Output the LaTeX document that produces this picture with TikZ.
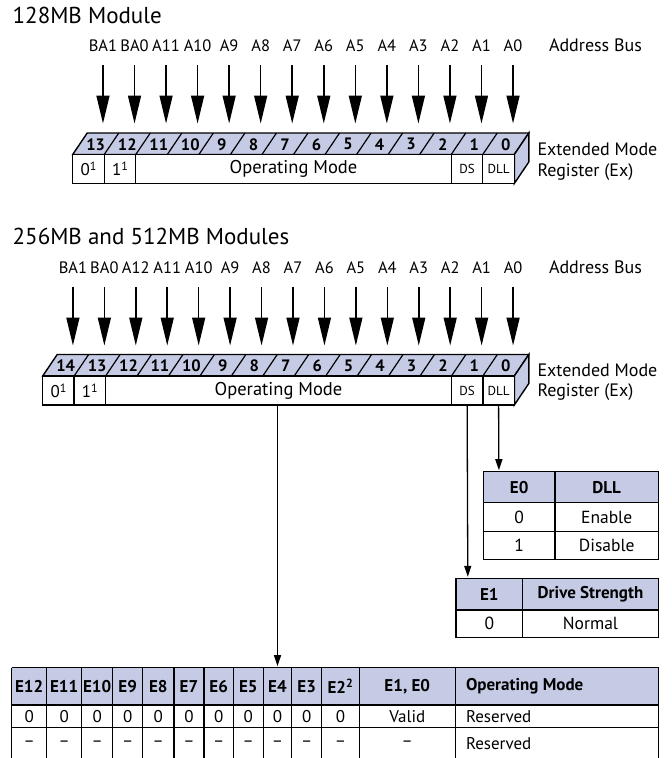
\documentclass[tikz,border=0pt]{standalone}
\usepackage{fontspec}
\setmainfont{PT Sans}
\usetikzlibrary{arrows.meta}
\definecolor{hdr}{HTML}{C5CBE4}
\newcommand\supone{\raisebox{0.55ex}{\fontsize{12}{14}\selectfont 1}}
\begin{document}
\begin{tikzpicture}[x=1pt,y=-1pt,
  every node/.style={inner sep=0pt, outer sep=0pt},
  reg/.style={draw=black, line width=1.4pt, line join=miter},
  fcell/.style={draw=black, line width=1.4pt, fill=white, anchor=north west, minimum height=29pt},
  busarrow/.style={line width=1.5pt, -{Triangle[width=13pt,length=28pt]}},
  conn/.style={line width=1.3pt, -{Triangle[width=7pt,length=11pt]}, shorten >=1.5pt},
  buslbl/.style={anchor=base, font=\fontsize{16.5}{18}\selectfont},
  bitnum/.style={font=\bfseries\fontsize{16.5}{18}\selectfont},
  title/.style={anchor=base west, font=\fontsize{23}{26}\selectfont},
  side/.style={anchor=base west, font=\fontsize{18}{20}\selectfont},
  tbl/.style={line width=1.3pt, line join=miter},
  th/.style={font=\bfseries\fontsize{17}{19}\selectfont},
  td/.style={font=\fontsize{17.5}{19}\selectfont},
  bth/.style={font=\bfseries\fontsize{17}{19}\selectfont},
  btd/.style={font=\fontsize{17}{19}\selectfont}
]
\useasboundingbox (0,0) rectangle (672,758);
\pgfmathsetmacro\dx{14.5}
\pgfmathsetmacro\dy{21.5}

% ---------- titles ----------
\node[title] (t128) at (12.7,23.3) {128MB Module};
\node[title] (t256) at (12.7,244) {256MB and 512MB Modules};

% ---------- register 1 ----------
\pgfmathsetmacro\xa{72.7}
\pgfmathsetmacro\xb{514.3}
\pgfmathsetmacro\yt{154.5}
\pgfmathsetmacro\yb{183.5}
\pgfmathsetmacro\n{14}
\pgfmathsetmacro\w{(\xb-\xa)/\n}
\pgfmathsetmacro\wom{(\n-4)*\w}
\draw[reg, fill=hdr] (\xa,\yt) -- ++(\dx,-\dy) -- (\xb+\dx,\yt-\dy) -- (\xb,\yt) -- cycle;
\draw[reg, fill=hdr] (\xb,\yt) -- ++(\dx,-\dy) -- (\xb+\dx,\yb-\dy) -- (\xb,\yb) -- cycle;
\foreach \k in {1,...,13} \draw[line width=1.2pt] (\xa+\k*\w,\yt) -- ++(\dx,-\dy);
\foreach \k [evaluate=\k as \bn using int(\n-1-\k)] in {0,...,13}
  \node[bitnum] (r1b\k) at (\xa+\k*\w+\w/2+\dx/2, \yt-\dy/2+0.5) {\bn};
\node[fcell, minimum width=\w pt, font=\fontsize{17}{19}\selectfont] (r1c0) at (\xa,\yt) {0\supone};
\node[fcell, minimum width=\w pt, font=\fontsize{17}{19}\selectfont] (r1c1) at (\xa+\w,\yt) {1\supone};
\node[fcell, minimum width=\wom pt, font=\fontsize{18.5}{20}\selectfont] (r1om) at (\xa+2*\w,\yt) {Operating Mode};
\node[fcell, minimum width=\w pt, font=\fontsize{13}{15}\selectfont] (r1ds) at (\xa+\n*\w-2*\w,\yt) {DS};
\node[fcell, minimum width=\w pt, font=\fontsize{13}{15}\selectfont] (r1dll) at (\xa+\n*\w-\w,\yt) {DLL};
\foreach \lab [count=\k from 0] in {BA1,BA0,A11,A10,A9,A8,A7,A6,A5,A4,A3,A2,A1,A0} {
  \node[buslbl] (r1l\k) at (\xa+\k*\w+\w/2+\dx, 51.7) {\lab};
  \coordinate (r1s\k) at (\xa+\k*\w+\w/2+\dx, 65);
  \coordinate (r1e\k) at (\xa+\k*\w+\w/2+\dx, 123.5);
  \draw[busarrow] (r1s\k) -- (r1e\k);
}
\node[side] (r1ab) at (549,51.7) {Address Bus};
\node[side] (r1em) at (537.5,155) {Extended Mode};
\node[side] (r1rg) at (537.5,176) {Register (Ex)};

% ---------- register 2 ----------
\pgfmathsetmacro\xa{42.7}
\pgfmathsetmacro\yt{376}
\pgfmathsetmacro\yb{405}
\pgfmathsetmacro\n{15}
\pgfmathsetmacro\w{(\xb-\xa)/\n}
\pgfmathsetmacro\wom{(\n-4)*\w}
\draw[reg, fill=hdr] (\xa,\yt) -- ++(\dx,-\dy) -- (\xb+\dx,\yt-\dy) -- (\xb,\yt) -- cycle;
\draw[reg, fill=hdr] (\xb,\yt) -- ++(\dx,-\dy) -- (\xb+\dx,\yb-\dy) -- (\xb,\yb) -- cycle;
\foreach \k in {1,...,14} \draw[line width=1.2pt] (\xa+\k*\w,\yt) -- ++(\dx,-\dy);
\foreach \k [evaluate=\k as \bn using int(\n-1-\k)] in {0,...,14}
  \node[bitnum] (r2b\k) at (\xa+\k*\w+\w/2+\dx/2, \yt-\dy/2+0.5) {\bn};
\node[fcell, minimum width=\w pt, font=\fontsize{17}{19}\selectfont] (r2c0) at (\xa,\yt) {0\supone};
\node[fcell, minimum width=\w pt, font=\fontsize{17}{19}\selectfont] (r2c1) at (\xa+\w,\yt) {1\supone};
\node[fcell, minimum width=\wom pt, font=\fontsize{18.5}{20}\selectfont] (r2om) at (\xa+2*\w,\yt) {Operating Mode};
\node[fcell, minimum width=\w pt, font=\fontsize{13}{15}\selectfont] (r2ds) at (\xa+\n*\w-2*\w,\yt) {DS};
\node[fcell, minimum width=\w pt, font=\fontsize{13}{15}\selectfont] (r2dll) at (\xa+\n*\w-\w,\yt) {DLL};
\foreach \lab [count=\k from 0] in {BA1,BA0,A12,A11,A10,A9,A8,A7,A6,A5,A4,A3,A2,A1,A0} {
  \node[buslbl] (r2l\k) at (\xa+\k*\w+\w/2+\dx, 273.3) {\lab};
  \coordinate (r2s\k) at (\xa+\k*\w+\w/2+\dx, 287);
  \coordinate (r2e\k) at (\xa+\k*\w+\w/2+\dx, 345.5);
  \draw[busarrow] (r2s\k) -- (r2e\k);
}
\node[side] (r2ab) at (549,273.3) {Address Bus};
\node[side] (r2em) at (537.5,376.7) {Extended Mode};
\node[side] (r2rg) at (537.5,396.7) {Register (Ex)};

% ---------- E0 table ----------
\fill[hdr] (483.3,471.7) rectangle (658.3,502.7);
\draw[tbl] (483.3,471.7) rectangle (658.3,559.7);
\draw[tbl] (483.3,502.7) -- (658.3,502.7) (483.3,531.2) -- (658.3,531.2) (555,471.7) -- (555,559.7);
\node[th] (e0h1) at (519.2,487.2) {E0};
\node[th] (e0h2) at (606.7,487.2) {DLL};
\node[td] (e0a1) at (519.2,517) {0};
\node[td] (e0a2) at (606.7,517) {Enable};
\node[td] (e0b1) at (519.2,545.4) {1};
\node[td] (e0b2) at (606.7,545.4) {Disable};
\coordinate (t0a) at (498.9,471.7);
\draw[conn] (r2dll.south) -- (t0a);

% ---------- E1 table ----------
\fill[hdr] (456,578.3) rectangle (658.3,610);
\draw[tbl] (456,578.3) rectangle (658.3,637.3);
\draw[tbl] (456,610) -- (658.3,610) (522.7,578.3) -- (522.7,637.3);
\node[th] (e1h1) at (489.3,594.2) {E1};
\node[th] (e1h2) at (590.5,594.2) {Drive Strength};
\node[td] (e1a1) at (489.3,623.7) {0};
\node[td] (e1a2) at (590.5,623.7) {Normal};
\coordinate (t1a) at (467.8,578.3);
\draw[conn] (r2ds.south) -- (t1a);

% ---------- operating mode table ----------
\fill[hdr] (11.7,667.7) rectangle (658.7,705);
\draw[tbl] (11.7,667.7) -- (658.7,667.7) (11.7,705) -- (658.7,705) (11.7,727.3) -- (658.7,727.3);
\foreach \cx in {11.7,46.7,81.7,112.7,142.7,174,204,233.3,263.3,291.7,321.7,359.3,455.3,658.7}
  \draw[tbl] (\cx,667.7) -- (\cx,758);
\foreach \ca/\cb/\hd [count=\i] in {11.7/46.7/E12,46.7/81.7/E11,81.7/112.7/E10,112.7/142.7/E9,142.7/174/E8,174/204/E7,204/233.3/E6,233.3/263.3/E5,263.3/291.7/E4,291.7/321.7/E3}{
  \node[bth] (oh\i) at ({(\ca+\cb)/2},686.3) {\hd};
  \node[btd] (oa\i) at ({(\ca+\cb)/2},716.2) {0};
  \node[btd] (ob\i) at ({(\ca+\cb)/2},744) {–};
}
\node[bth] (oh11) at (340.5,686.3) {E2\textsuperscript{2}};
\node[btd] (oa11) at (340.5,716.2) {0};
\node[btd] (ob11) at (340.5,744) {–};
\node[bth] (oh12) at (407.3,686.3) {E1, E0};
\node[btd] (oa12) at (407.3,716.2) {Valid};
\node[btd] (ob12) at (407.3,744) {–};
\node[bth, anchor=west] (oh13) at (466,686.3) {Operating Mode};
\node[btd, anchor=west] (oa13) at (466,716.2) {Reserved};
\node[btd, anchor=west] (ob13) at (466,744) {Reserved};
\coordinate (t2a) at (277.5,667.7);
\draw[conn] (t2a |- r2om.south) -- (t2a);
\end{tikzpicture}
\end{document}
